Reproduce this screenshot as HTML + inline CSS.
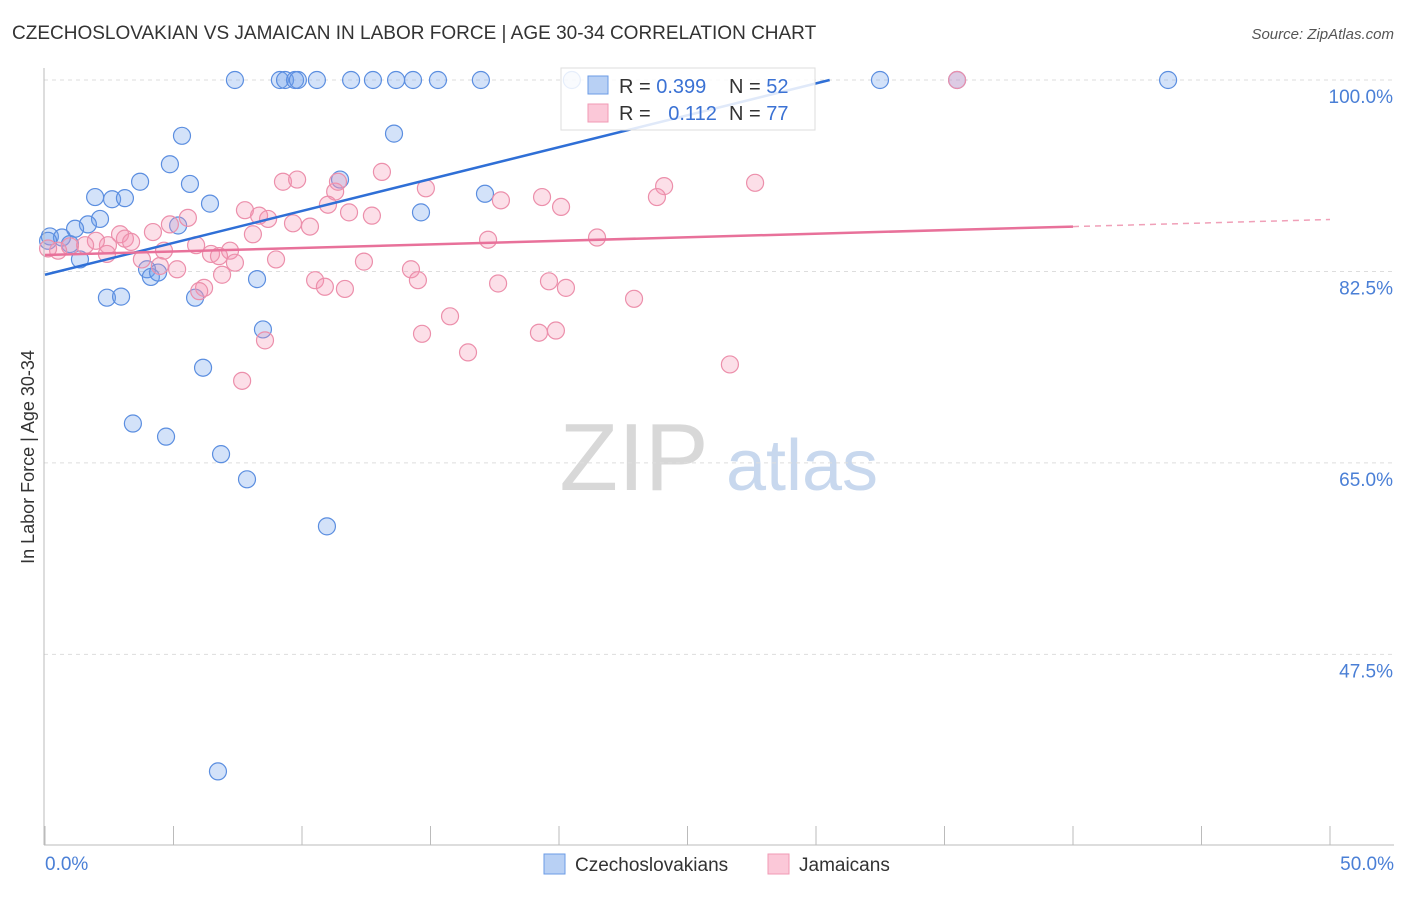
<!DOCTYPE html>
<html><head><meta charset="utf-8"><style>
body{margin:0;background:#fff;font-family:"Liberation Sans",sans-serif}
svg text{font-family:"Liberation Sans",sans-serif}
</style></head><body>
<svg width="1406" height="892" id="c">
<text x="12" y="39" font-size="19" fill="#333">CZECHOSLOVAKIAN VS JAMAICAN IN LABOR FORCE | AGE 30-34 CORRELATION CHART</text>
<text x="1394" y="39" font-size="15" fill="#555" text-anchor="end" font-style="italic">Source: ZipAtlas.com</text>
<text x="34" y="457" font-size="18" fill="#333" text-anchor="middle" transform="rotate(-90 34 457)">In Labor Force | Age 30-34</text>
<g><text x="634" y="490" font-size="96" fill="#d8d8d8" text-anchor="middle" font-family="Liberation Serif,serif">ZIP</text><text x="802" y="490" font-size="72" fill="#c8d8ee" text-anchor="middle">atlas</text></g>
<g id="grid"></g><g id="pts"></g><g id="lines"></g>
<line x1="44" y1="68" x2="44" y2="845" stroke="#bbb"/>
<line x1="44" y1="845" x2="1394" y2="845" stroke="#bbb"/>
<text x="45" y="870" font-size="19" fill="#4a7fd6">0.0%</text>
<text x="1394" y="870" font-size="19" fill="#4a7fd6" text-anchor="end">50.0%</text>
<g>
<rect x="561" y="68" width="254" height="62" fill="rgba(255,255,255,0.85)" stroke="#ddd"/>
<rect x="588" y="76" width="20" height="18" fill="#b8d0f4" stroke="#6b9be6"/>
<rect x="588" y="104" width="20" height="18" fill="#fbc8d8" stroke="#f09ab4"/>
<text x="619" y="93" font-size="20" fill="#333">R = <tspan fill="#3b72d4">0.399</tspan></text>
<text x="729" y="93" font-size="20" fill="#333">N = <tspan fill="#3b72d4">52</tspan></text>
<text x="619" y="120" font-size="20" fill="#333">R = <tspan fill="#3b72d4" dx="12">0.112</tspan></text>
<text x="729" y="120" font-size="20" fill="#333">N = <tspan fill="#3b72d4">77</tspan></text>
</g>
<g><rect x="544" y="854" width="21" height="20" fill="#b8d0f4" stroke="#6b9be6"/><text x="575" y="871" font-size="19" fill="#333">Czechoslovakians</text></g>
<g><rect x="768" y="854" width="21" height="20" fill="#fbc8d8" stroke="#f09ab4"/><text x="799" y="871" font-size="19" fill="#333">Jamaicans</text></g>
</svg>
<script>
const yTicks=[100,82.5,65,47.5];
const xTickVals=[0,5,10,15,20,25,30,35,40,45,50];
const blueX=[7.39,9.14,9.34,9.73,9.84,10.58,11.91,12.76,13.66,14.32,15.29,16.96,20.5,32.49,35.49,43.7,5.33,13.58,4.86,3.7,5.64,1.95,2.61,3.11,6.42,11.48,14.63,17.12,2.14,1.67,1.17,5.18,0.19,0.66,0.12,0.97,1.36,3.97,4.12,4.4,8.25,2.41,2.96,5.84,8.48,6.15,3.42,4.71,6.85,7.86,10.97,6.73];
const blueY=[100,100,100,100,100,100,100,100,100,100,100,100,100,100,100,100,94.9,95.1,92.3,90.7,90.5,89.3,89.1,89.2,88.7,90.9,87.9,89.6,87.3,86.8,86.4,86.7,85.7,85.6,85.3,85.0,83.6,82.7,82.0,82.4,81.8,80.1,80.2,80.1,77.2,73.7,68.6,67.4,65.8,63.5,59.2,36.8];
const pinkX=[35.49,13.11,9.26,9.81,11.29,11.4,14.82,24.09,27.63,23.81,19.34,17.74,20.08,7.78,8.33,8.68,9.65,10.31,11.01,11.83,12.72,4.86,5.56,4.2,2.92,3.11,3.35,2.45,1.98,1.56,0.97,0.51,0.12,4.63,5.88,7.2,8.09,17.24,21.48,6.46,6.77,7.39,8.99,2.41,3.77,4.47,5.14,6.89,10.51,10.89,11.67,12.41,14.24,14.51,17.63,19.61,20.27,22.92,6.19,6,15.76,8.56,14.67,16.46,19.22,19.88,26.65,7.67];
const pinkY=[100,91.6,90.7,90.9,89.8,90.7,90.1,90.3,90.6,89.3,89.3,89.0,88.4,88.1,87.6,87.3,86.9,86.6,88.6,87.9,87.6,86.8,87.4,86.1,85.9,85.5,85.2,84.9,85.3,84.9,84.8,84.4,84.6,84.4,84.9,84.4,85.9,85.4,85.6,84.1,83.9,83.3,83.6,84.1,83.6,83.0,82.7,82.2,81.7,81.1,80.9,83.4,82.7,81.7,81.4,81.6,81.0,80.0,81.0,80.7,78.4,76.2,76.8,75.1,76.9,77.1,74.0,72.5];
const blueFit=[82.2,0.583], pinkFit=[84.0,0.065];
const X=v=>45+v*25.7, Y=v=>80+(100-v)*10.94;
const NS='http://www.w3.org/2000/svg';
function mk(t,a,p){const e=document.createElementNS(NS,t);for(const k in a)e.setAttribute(k,a[k]);p.appendChild(e);return e;}
const grid=document.getElementById('grid');
yTicks.forEach(t=>{
 const l=mk('line',{x1:44,x2:1394,y1:Y(t),y2:Y(t),stroke:'#ddd','stroke-dasharray':'4 4'},grid);
 
 
 const tx=mk('text',{x:1393,y:Y(t)+23,'font-size':19,fill:'#4a7fd6','text-anchor':'end'},grid);
 tx.textContent=t.toFixed(1)+'%';
 
 
});
xTickVals.forEach(t=>{
 const l=mk('line',{x1:X(t),x2:X(t),y1:826,y2:845,stroke:'#bbb'},grid);
 
 
});
const pts=document.getElementById('pts');
blueX.forEach((x,i)=>{
 const c=mk('circle',{cx:X(x),cy:Y(blueY[i]),r:8.5,fill:'rgba(110,160,235,0.3)',stroke:'#5b8ee0','stroke-width':1.2},pts);
 
 
});
pinkX.forEach((x,i)=>{
 const c=mk('circle',{cx:X(x),cy:Y(pinkY[i]),r:8.5,fill:'rgba(245,150,180,0.3)',stroke:'#ec8fab','stroke-width':1.2},pts);
 
 
});
const lines=document.getElementById('lines');
const bx1=(100-blueFit[0])/blueFit[1];
let l=mk('line',{x1:X(0),y1:Y(blueFit[0]),x2:X(bx1),y2:Y(100),stroke:'#2f6fd6','stroke-width':2.5},lines);


l=mk('line',{x1:X(0),y1:Y(pinkFit[0]),x2:X(40),y2:Y(pinkFit[0]+pinkFit[1]*40),stroke:'#e8719a','stroke-width':2.5},lines);


l=mk('line',{x1:X(40),y1:Y(pinkFit[0]+pinkFit[1]*40),x2:X(50),y2:Y(pinkFit[0]+pinkFit[1]*50),stroke:'#f0a0b8','stroke-width':1.5,'stroke-dasharray':'6 5'},lines);


</script>
</body></html>
